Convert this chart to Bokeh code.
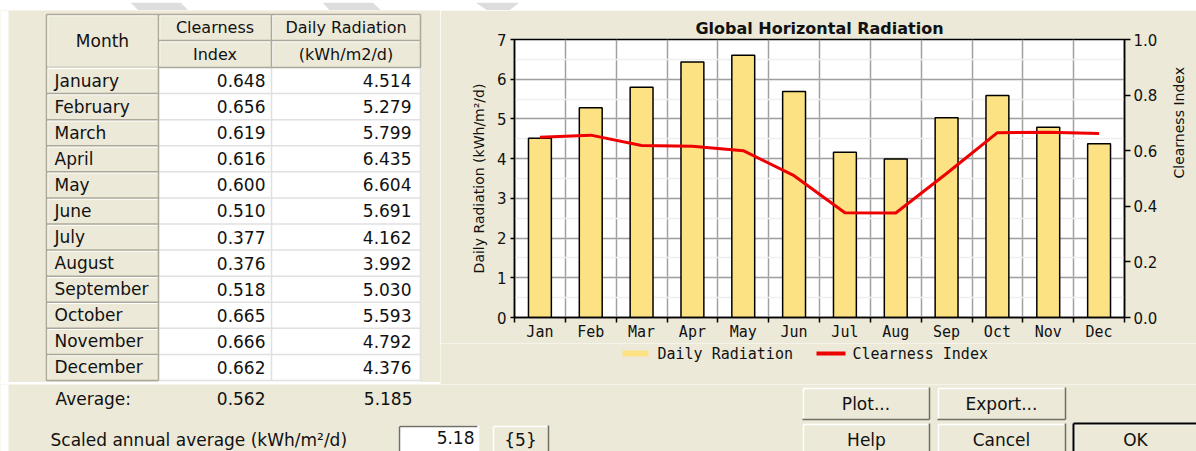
import math
from bokeh.plotting import figure
from bokeh.models import (Range1d, LinearAxis, FixedTicker, SingleIntervalTicker,
                          PrintfTickFormatter)
from bokeh.layouts import row, column
from bokeh.embed import file_html
from bokeh.resources import INLINE
from bokeh.core.properties import value

# ---------------- data ----------------
months = ["January", "February", "March", "April", "May", "June", "July",
          "August", "September", "October", "November", "December"]
month_abbr = ["Jan", "Feb", "Mar", "Apr", "May", "Jun", "Jul", "Aug", "Sep",
              "Oct", "Nov", "Dec"]
clearness = [0.648, 0.656, 0.619, 0.616, 0.600, 0.510, 0.377, 0.376, 0.518,
             0.665, 0.666, 0.662]
radiation = [4.514, 5.279, 5.799, 6.435, 6.604, 5.691, 4.162, 3.992, 5.030,
             5.593, 4.792, 4.376]
average_label = "Average:"
average_clearness = "0.562"
average_radiation = "5.185"
header_month = "Month"
header_top = ["Clearness", "Daily Radiation"]
header_bottom = ["Index", "(kWh/m2/d)"]
scaled_label = "Scaled annual average (kWh/m\u00b2/d)"
scaled_value = "5.18"
scaled_button = "{5}"
buttons_top = ["Plot...", "Export..."]
buttons_bottom = ["Help", "Cancel", "OK"]
rad_ticks = [0, 1, 2, 3, 4, 5, 6, 7]
ci_ticks = [0.0, 0.2, 0.4, 0.6, 0.8, 1.0]
chart_title = "Global Horizontal Radiation"
rad_axis_label = "Daily Radiation (kWh/m\u00b2/d)"
ci_axis_label = "Clearness Index"
legend_labels = ["Daily Radiation", "Clearness Index"]

# ---------------- styles ----------------
BG = "#ECE9D8"
BAR = "#FDE283"
RED = "#EE0000"
GRID = "#A0A0A0"
SHADOW = "#ACA899"
DARK = "#716F64"
FONT = "DejaVu Sans"
MONO = "DejaVu Sans Mono"
TXT = "#111111"


def blank(width, height, x0, x1, y0, y1, bg=BG):
    f = figure(width=width, height=height, x_range=Range1d(x0, x1),
               y_range=Range1d(y1, y0), output_backend="svg",
               toolbar_location=None, x_axis_type=None, y_axis_type=None,
               min_border=0, background_fill_color=bg, border_fill_color=bg,
               outline_line_color=None, frame_align=False)
    return f


def bevel(f, ls, rs, ts, bs, fill=BG, sunken=False, outer=None):
    f.quad(left=ls, right=rs, top=ts, bottom=bs, fill_color=fill, line_color=None)
    hi = "white"
    lo = DARK if outer is None else outer
    c_tl, c_br = (lo, hi) if sunken else (hi, lo)
    f.segment(x0=[l + 1 for l in ls], y0=[t + 1 for t in ts],
              x1=[r - 1 for r in rs], y1=[t + 1 for t in ts], line_color=c_tl, line_width=1.5)
    f.segment(x0=[l + 1 for l in ls], y0=[t + 1 for t in ts],
              x1=[l + 1 for l in ls], y1=[b - 1 for b in bs], line_color=c_tl, line_width=1.5)
    f.segment(x0=ls, y0=bs, x1=rs, y1=bs, line_color=c_br, line_width=1.5)
    f.segment(x0=rs, y0=ts, x1=rs, y1=bs, line_color=c_br, line_width=1.5)


def txt(f, xs, ys, texts, align="left", size="17px", font=FONT, style="normal"):
    f.text(x=xs, y=ys, text=texts, text_align=align, text_baseline="middle",
           text_font=value(font), text_font_size=size, text_color=TXT,
           text_font_style=style)


# page regions (the page is drawn from its top-left corner)
W_PAGE, H_PAGE = 1196, 451
TOP_STRIP = 10
LEFT_MARGIN = 8
W_TABLE, H_TOP = 440, 382
CHART_TOP, FRAME_TOP, FRAME_BOTTOM, CHART_BOTTOM = TOP_STRIP, 39, 317, 341

# ---------------- white strip on top (with the grey bands of the screenshot) ----------------
sf = blank(W_PAGE, TOP_STRIP, 0, W_PAGE, 0, TOP_STRIP, bg="white")
sf.patches(xs=[[130, 180, 190, 140], [322, 372, 383, 331], [475, 519, 506, 490]],
           ys=[[0, 0, 10, 10]] * 3, fill_color="#DDDDDD", line_color=None)

# ---------------- table (left) ----------------
tf = blank(W_TABLE, H_TOP - TOP_STRIP, 0, W_TABLE, TOP_STRIP, H_TOP)
tf.quad(left=[0], right=[LEFT_MARGIN], top=[TOP_STRIP], bottom=[H_TOP],
        fill_color="white", line_color=None)
xm0, xm1, xc1, xr1 = 46, 158, 271, 420
ht, hm, hb = 14, 40, 67
rb = 380
n = len(months)
rh = (rb - hb) / n
row_tops = [hb + i * rh for i in range(n)]
row_bots = [t + rh for t in row_tops]
row_mid = [t + rh / 2 for t in row_tops]

tf.quad(left=[xm1], right=[xr1], top=[hb], bottom=[rb + 3], fill_color="white", line_color=None)
tf.segment(x0=[xm1] * n, x1=[xr1] * n, y0=row_bots, y1=row_bots,
           line_color="#E0E0E0", line_width=1.5)
tf.segment(x0=[xc1, xr1], x1=[xc1, xr1], y0=[hb, hb], y1=[rb, rb],
           line_color="#E0E0E0", line_width=1.5)

bevel(tf, [xm0, xm1, xc1, xm1, xc1], [xm1, xc1, xr1, xc1, xr1],
      [ht, ht, ht, hm, hm], [hb, hm, hm, hb, hb], outer=SHADOW)
bevel(tf, [xm0] * n, [xm1] * n, row_tops, row_bots, outer=SHADOW)
tf.segment(x0=[xm0, xm0], y0=[ht, ht], x1=[xm0, xr1], y1=[rb, ht],
           line_color=SHADOW, line_width=1.5)

txt(tf, [(xm0 + xm1) / 2], [(ht + hb) / 2], [header_month], align="center")
txt(tf, [(xm1 + xc1) / 2, (xc1 + xr1) / 2], [(ht + hm) / 2] * 2, header_top, align="center", size="16px")
txt(tf, [(xm1 + xc1) / 2, (xc1 + xr1) / 2], [(hm + hb) / 2] * 2, header_bottom, align="center", size="16px")
txt(tf, [xm0 + 8] * n, row_mid, months)
txt(tf, [xc1 - 6] * n, row_mid, ["%.3f" % v for v in clearness], align="right")
txt(tf, [xr1 - 9] * n, row_mid, ["%.3f" % v for v in radiation], align="right")

# ---------------- chart (right) ----------------
x_pos = [i + 0.5 for i in range(len(month_abbr))]
bounds = list(range(len(month_abbr) + 1))

p = figure(frame_width=610, frame_height=FRAME_BOTTOM - FRAME_TOP,
           x_range=Range1d(0, len(month_abbr)),
           y_range=Range1d(rad_ticks[0], rad_ticks[-1]), output_backend="svg",
           toolbar_location=None, min_border_left=74, min_border_right=72,
           min_border_top=FRAME_TOP - CHART_TOP,
           min_border_bottom=CHART_BOTTOM - FRAME_BOTTOM,
           background_fill_color="white", border_fill_color=BG,
           outline_line_color="black", outline_line_width=1.5,
           title=chart_title, frame_align=False)
p.title.align = "center"
p.title.text_font = FONT
p.title.text_font_size = "16px"
p.title.text_font_style = "bold"
p.title.text_color = TXT
p.title.standoff = 3

p.extra_y_ranges = {"ci": Range1d(ci_ticks[0], ci_ticks[-1])}

xa = p.xaxis[0]
xa.ticker = FixedTicker(ticks=x_pos, minor_ticks=bounds)
xa.major_label_overrides = {x: lab for x, lab in zip(x_pos, month_abbr)}
xa.major_tick_out = 0
xa.major_tick_in = 0
xa.minor_tick_out = 5
xa.minor_tick_in = 0
xa.minor_tick_line_color = "black"
xa.minor_tick_line_width = 1.5
xa.axis_line_color = "black"
xa.axis_line_width = 1.5
xa.major_label_standoff = 0
xa.major_label_text_font = MONO
xa.major_label_text_font_size = "15px"
xa.major_label_text_color = TXT

ya = p.yaxis[0]
ya.ticker = SingleIntervalTicker(interval=1, num_minor_ticks=2)
ya.minor_tick_line_color = None
ya.major_tick_out = 4
ya.major_tick_in = 0
ya.major_tick_line_color = "black"
ya.major_tick_line_width = 1.5
ya.axis_line_color = "black"
ya.axis_line_width = 1.5
ya.major_label_standoff = 4
ya.major_label_text_font = FONT
ya.major_label_text_font_size = "15px"
ya.major_label_text_color = TXT
ya.axis_label = rad_axis_label
ya.axis_label_text_font = FONT
ya.axis_label_text_font_size = "14px"
ya.axis_label_text_font_style = "normal"
ya.axis_label_text_color = TXT
ya.axis_label_standoff = 7

ra = LinearAxis(y_range_name="ci", ticker=FixedTicker(ticks=ci_ticks),
                formatter=PrintfTickFormatter(format="%.1f"))
ra.major_tick_out = 6
ra.major_tick_in = 0
ra.minor_tick_line_color = None
ra.major_tick_line_color = "black"
ra.major_tick_line_width = 1.5
ra.axis_line_color = "black"
ra.axis_line_width = 1.5
ra.major_label_standoff = 3
ra.major_label_text_font = FONT
ra.major_label_text_font_size = "15px"
ra.major_label_text_color = TXT
ra.axis_label = ci_axis_label
ra.axis_label_text_font = FONT
ra.axis_label_text_font_size = "14px"
ra.axis_label_text_font_style = "normal"
ra.axis_label_text_color = TXT
ra.axis_label_standoff = 19
ra.axis_label_orientation = math.pi / 2
p.add_layout(ra, "right")

p.xgrid.ticker = FixedTicker(ticks=bounds[1:-1])
p.xgrid.grid_line_color = GRID
p.xgrid.grid_line_width = 1.5
p.ygrid.grid_line_color = GRID
p.ygrid.grid_line_width = 1.5
p.ygrid.minor_grid_line_color = "#EFEFEF"
p.ygrid.minor_grid_line_width = 1.5

p.vbar(x=x_pos, top=radiation, bottom=0, width=0.45, fill_color=BAR,
       line_color="black", line_width=1.5)
p.line(x=x_pos, y=clearness, y_range_name="ci", line_color=RED, line_width=3)

# ---------------- legend strip under the chart ----------------
lf = blank(W_PAGE - W_TABLE, H_TOP - CHART_BOTTOM, W_TABLE, W_PAGE, CHART_BOTTOM, H_TOP)
sw_x0 = [622, 816]
sw_x1 = [648, 845]
lf.segment(x0=sw_x0, x1=sw_x1, y0=[351, 351], y1=[351, 351],
           line_color=[BAR, RED], line_width=[6, 4])
txt(lf, [657, 852], [351, 351], legend_labels, size="15px", font=MONO)

# ---------------- bottom strip ----------------
bf = blank(W_PAGE, H_PAGE - H_TOP, 0, W_PAGE, H_TOP, H_PAGE)
bf.quad(left=[0], right=[LEFT_MARGIN], top=[H_TOP], bottom=[H_PAGE],
        fill_color="white", line_color=None)
txt(bf, [xm0 + 9], [396], [average_label])
txt(bf, [xc1 - 6], [396], [average_clearness], align="right")
txt(bf, [xr1 - 8], [396], [average_radiation], align="right")
txt(bf, [50], [437], [scaled_label])

bevel(bf, [398], [478], [423], [455], fill="white", sunken=True)
txt(bf, [474], [435], [scaled_value], align="right")
bevel(bf, [492], [548], [423], [455])
txt(bf, [520], [437], [scaled_button], align="center")

bt_l = [802, 937]
bt_r = [929, 1065]
bevel(bf, bt_l, bt_r, [385, 385], [417, 417])
txt(bf, [(a + b) / 2 for a, b in zip(bt_l, bt_r)], [401, 401], buttons_top, align="center")
bb_l = [802, 937, 1073]
bb_r = [929, 1065, 1200]
bevel(bf, bb_l, bb_r, [421, 421, 421], [455, 455, 455])
bf.segment(x0=[1073, 1073], y0=[421, 421], x1=[1200, 1073], y1=[421, 455],
           line_color="black", line_width=2)
txt(bf, [866, 1001, 1135], [437, 437, 437], buttons_bottom, align="center")

layout = column(sf, row(tf, column(p, lf)), bf)
open("out.html", "w").write(file_html(layout, INLINE))
